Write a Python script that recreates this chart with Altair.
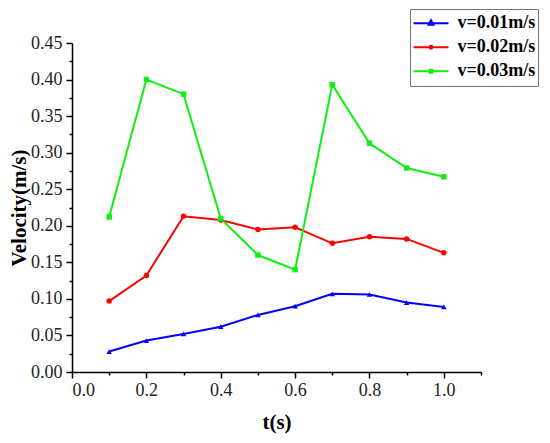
import altair as alt
import pandas as pd

# ---- data ----
t_values = [0.1, 0.2, 0.3, 0.4, 0.5, 0.6, 0.7, 0.8, 0.9, 1.0]
v_001 = [0.028, 0.043, 0.052, 0.062, 0.078, 0.090, 0.107, 0.106, 0.095, 0.089]
v_002 = [0.097, 0.132, 0.213, 0.208, 0.195, 0.198, 0.176, 0.185, 0.182, 0.163]
v_003 = [0.212, 0.400, 0.380, 0.210, 0.160, 0.140, 0.393, 0.313, 0.279, 0.267]
series_names = ["v=0.01m/s", "v=0.02m/s", "v=0.03m/s"]
series_colors = ["#0000FF", "#FF0000", "#11EE11"]
series_shapes = ["triangle-up", "circle", "square"]
legend_paths = [
    "M-1,0H1M0,-0.17L0.14,0.08L-0.14,0.08Z",
    "M-1,0H1M0.08,0A0.08,0.08,0,1,1,-0.08,0A0.08,0.08,0,1,1,0.08,0Z",
    "M-1,0H1M-0.08,-0.08H0.08V0.08H-0.08Z",
]

x_major = [0.0, 0.2, 0.4, 0.6, 0.8, 1.0]
x_minor = [0.1, 0.3, 0.5, 0.7, 0.9, 1.1]
y_major = [0.0, 0.05, 0.10, 0.15, 0.20, 0.25, 0.30, 0.35, 0.40, 0.45]
y_minor = [0.025, 0.075, 0.125, 0.175, 0.225, 0.275, 0.325, 0.375, 0.425]

rows = []
for name, vals in zip(series_names, [v_001, v_002, v_003]):
    for t, v in zip(t_values, vals):
        rows.append({"t": t, "v": v, "series": name})
df = pd.DataFrame(rows)

FONT = "Liberation Serif"

x_scale = alt.Scale(domain=[0, 1.1], nice=False, zero=False)
y_scale = alt.Scale(domain=[0, 0.45], nice=False, zero=False)
color_scale = alt.Scale(domain=series_names, range=series_colors)

base = alt.Chart(df)

leg = alt.Legend(
    title=None, orient="none", legendX=338, legendY=-34,
    labelFont=FONT, labelFontSize=18, labelFontWeight="bold", labelColor="black",
    symbolSize=1225, clipHeight=23.5, rowPadding=0, padding=2.5,
    labelOffset=8, symbolStrokeWidth=2, symbolOpacity=1,
    strokeColor="#777777", fillColor="white",
)
# invisible layer that only carries the legend (line + marker symbols)
legend_layer = base.mark_point(opacity=0, filled=False, strokeWidth=2).encode(
    x=alt.X("t:Q", scale=x_scale, axis=None),
    y=alt.Y("v:Q", scale=y_scale, axis=None),
    color=alt.Color("series:N", scale=color_scale, legend=leg),
    shape=alt.Shape("series:N", scale=alt.Scale(domain=series_names, range=legend_paths), legend=leg),
)

lines = base.mark_line(strokeWidth=2).encode(
    x=alt.X("t:Q", scale=x_scale,
            axis=alt.Axis(values=x_major, format=".1f", title="t(s)", orient="bottom",
                          tickSize=6, labelPadding=3, titlePadding=12,
                          titleFontSize=21)),
    y=alt.Y("v:Q", scale=y_scale,
            axis=alt.Axis(values=y_major, format=".2f", title="Velocity(m/s)", orient="left",
                          tickSize=6, labelPadding=4, titlePadding=1,
                          titleFontSize=21)),
    color=alt.Color("series:N", scale=color_scale, legend=None),
)

point_layers = []
for name, shp in zip(series_names, series_shapes):
    point_layers.append(
        base.transform_filter(alt.datum.series == name)
        .mark_point(filled=True, size=30, opacity=1, shape=shp)
        .encode(
            x=alt.X("t:Q", scale=x_scale, axis=None),
            y=alt.Y("v:Q", scale=y_scale, axis=None),
            color=alt.Color("series:N", scale=color_scale, legend=None),
        )
    )

minor = base.mark_point(opacity=0).encode(
    x=alt.X("t:Q", scale=x_scale,
            axis=alt.Axis(values=x_minor, tickSize=3, labels=False, domain=False,
                          title=None, orient="bottom")),
    y=alt.Y("v:Q", scale=y_scale,
            axis=alt.Axis(values=y_minor, tickSize=3, labels=False, domain=False,
                          title=None, orient="left")),
)

chart = (
    alt.layer(legend_layer, lines, *point_layers, minor)
    .resolve_axis(x="independent", y="independent")
    .properties(
        width=409, height=329,
        autosize=alt.AutoSizeParams(type="none"),
        padding={"left": 64, "top": 35, "right": 61, "bottom": 63},
    )
    .configure_view(stroke=None)
    .configure_axis(
        labelFont=FONT, labelFontSize=18, labelColor="#222222",
        titleFont=FONT, titleFontWeight="bold", titleColor="black",
        domainColor="black", domainWidth=1.5, tickColor="black", tickWidth=1.5,
        grid=False,
    )
)

chart.save("out.html", embed_options={"renderer": "svg", "actions": False})
